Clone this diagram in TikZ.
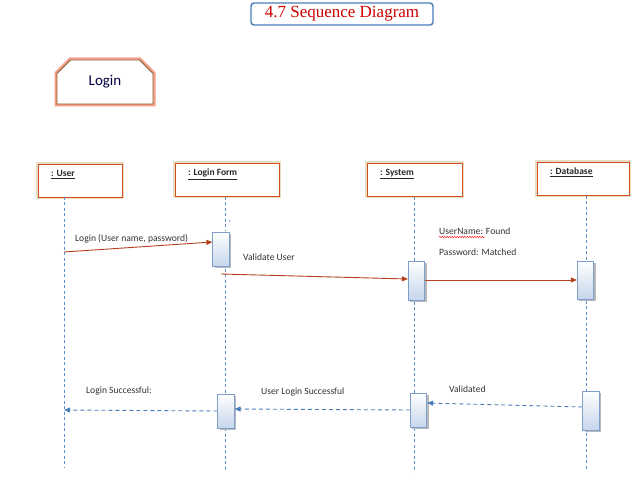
\documentclass[tikz,border=0pt]{standalone}
\usepackage{fontspec}
\setmainfont{Carlito}
\newfontfamily\titlefont{Liberation Serif}
\usetikzlibrary{arrows.meta,shapes.misc,decorations.pathmorphing}

\definecolor{msgred}{HTML}{B5401E}
\definecolor{retblue}{HTML}{4A7EBB}
\definecolor{lifeblue}{HTML}{5B8FD0}
\definecolor{actborder}{HTML}{7F9FCB}
\definecolor{actblue}{HTML}{C6D6EC}
\definecolor{headred}{HTML}{D2501E}
\definecolor{headglow}{HTML}{E8DCC4}
\definecolor{loginglow}{HTML}{F6A08C}
\definecolor{txtgray}{HTML}{333333}

\begin{document}
\begin{tikzpicture}[x=1pt,y=-1pt,
    head/.style={draw=headred, line width=0.9pt, fill=white,
      preaction={draw=headglow, line width=4pt},
      minimum width=#1, minimum height=33pt, inner sep=0pt},
    act/.style={draw=actborder, line width=0.7pt, top color=white, bottom color=actblue,
      preaction={fill=gray!55, transform canvas={shift={(2pt,-2pt)}}},
      minimum width=16.5pt, minimum height=#1, inner sep=0pt},
    life/.style={draw=lifeblue, line width=0.7pt, dash pattern=on 3pt off 2.5pt},
    msg/.style={draw=msgred, line width=0.9pt, -{Triangle[length=6pt,width=5pt]}},
    ret/.style={draw=retblue, line width=0.9pt, dash pattern=on 4pt off 3pt,
      -{Triangle[length=6pt,width=5pt]}},
    lbl/.style={text=txtgray, font=\fontsize{9.6}{11}\selectfont, inner sep=0pt, anchor=south west},
    hlbl/.style={text=black!85, font=\fontsize{9.5}{11}\selectfont\bfseries, inner sep=0pt, anchor=north west}]

\useasboundingbox (0,0) rectangle (639,486);

% titre
\node[draw=retblue, line width=1.4pt, rounded corners=3pt, minimum width=182pt,
  minimum height=22pt, text=red!80!black, font=\titlefont\fontsize{17}{19}\selectfont]
  (title) at (342,14) {4.7 Sequence Diagram};

% cadre Login
\node[chamfered rectangle, chamfered rectangle corners={north west,north east},
  chamfered rectangle xsep=7pt, chamfered rectangle ysep=7pt,
  draw=brown!70!black, line width=0.8pt, fill=white,
  preaction={draw=loginglow, line width=5pt},
  minimum width=96pt, minimum height=44pt, inner sep=0pt,
  text=blue!25!black, font=\fontsize{15}{17}\selectfont] (login) at (105,82) {Login};

% objets
\node[head=84pt] (user) at (80,181) {};
\node[head=104pt] (form) at (227,180) {};
\node[head=95pt] (sys) at (414.5,180) {};
\node[head=92pt] (db) at (583,179) {};
\node[hlbl] (userlbl) at (51,170) {\underline{: User}};
\node[hlbl] (formlbl) at (188,169) {\underline{: Login Form}};
\node[hlbl] (syslbl) at (380,169) {\underline{: System}};
\node[hlbl] (dblbl) at (550,168) {\underline{: Database}};

% lignes de vie
\coordinate (usertop) at (64,197);  \coordinate (userbot) at (64,467);
\coordinate (formtop) at (225,197); \coordinate (formbot) at (225,470);
\coordinate (systop) at (414,197);  \coordinate (sysbot) at (414,472);
\coordinate (dbtop) at (586,196);   \coordinate (dbbot) at (586,470);
\draw[life] (usertop) -- (userbot);
\draw[life] (formtop) -- (formbot);
\draw[life] (systop) -- (sysbot);
\draw[life] (dbtop) -- (dbbot);

% activations
\node[act=34pt] (f1) at (221,249) {};
\node[act=39pt] (s1) at (416.5,280.5) {};
\node[act=38pt] (d1) at (585.5,280) {};
\node[act=34pt] (f2) at (226,411) {};
\node[act=34pt] (s2) at (418.5,410) {};
\node[act=39pt] (d2) at (591,410.5) {};
\fill[blue!70] (229.5,221) circle (0.6pt);

% messages
\draw[msg] (usertop |- 0,252) -- (f1.west |- 0,242);
\node[lbl] (m1) at (75,243) {Login (User name, password)};
\draw[msg] (f1.south |- 0,274) -- (s1.west |- 0,279);
\node[lbl] (m2) at (243,261) {Validate User};
\draw[msg] (s1.east |- 0,280) -- (d1.west |- 0,280);
\node[lbl] (m3a) at (439,235) {UserName: Found};
\draw[red, line width=0.4pt, decorate, decoration={snake, amplitude=0.7pt, segment length=2.5pt}]
  (439,237) -- (485,237);
\node[lbl] (m3b) at (439,256) {Password: Matched};

% retours
\draw[ret] (d2.west |- 0,407) -- (s2.east |- 0,403);
\node[lbl] (r1) at (449,393) {Validated};
\draw[ret] (s2.west |- 0,410) -- (f2.east |- 0,409);
\node[lbl] (r2) at (261,396) {User Login Successful};
\draw[ret] (f2.west |- 0,411) -- (usertop |- 0,410);
\node[lbl] (r3) at (86,395) {Login Successful:};
\end{tikzpicture}
\end{document}
